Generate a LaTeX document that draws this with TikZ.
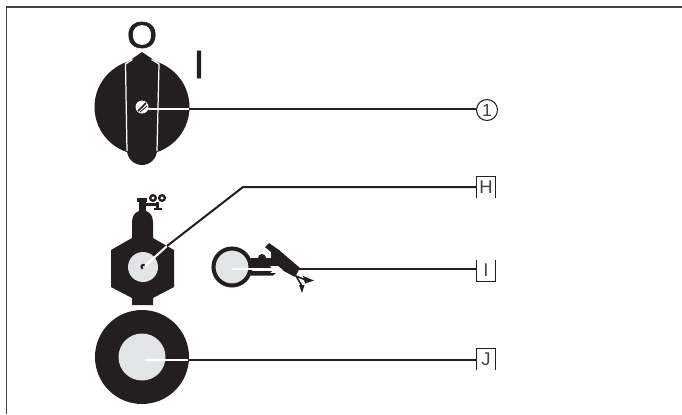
\documentclass[tikz,border=0pt]{standalone}
\usepackage{fontspec}
\setmainfont{Liberation Sans}
\newfontfamily\markfont[FakeBold=1.6]{Liberation Sans}
\definecolor{inkblack}{HTML}{231F20}
\definecolor{discgray}{HTML}{E3E4E6}
\tikzset{
  lead/.style={draw=inkblack, line width=1.15pt},
  whitelead/.style={draw=white, line width=1.15pt},
  tag/.style={minimum width=0.36cm, minimum height=0.42cm, inner sep=0pt, font=\fontsize{10.5}{11}\selectfont, text=inkblack!85},
  tagline/.style={draw=inkblack, line width=0.55pt}
}
\begin{document}
\begin{tikzpicture}[x=0.02cm,y=-0.02cm]
  \useasboundingbox (0,0) rectangle (682,414);
  % frame
  \draw[draw=inkblack!85, line width=0.9pt] (6.5,414)--(6.5,7)--(682,7);
  % switch positions
  \node[font=\markfont\fontsize{21}{21}\selectfont, text=inkblack, xscale=1.05, inner sep=0pt] (posO) at (142,35) {O};
  \node[font=\markfont\fontsize{22.5}{23}\selectfont, text=inkblack, inner sep=0pt] (posI) at (199,64.5) {I};
  % knob
  \fill[inkblack] (142,107) circle (47.5);
  \fill[inkblack] (142,52)--(159,63.5)--(157,150) arc (0:180:15)--(125.5,63.5)--cycle;
  \draw[draw=white, line width=0.7pt] (132.5,59.5)--(125.5,64)--(127,151);
  \draw[draw=white, line width=0.7pt] (151.5,59.5)--(159,64)--(157,151);
  \fill[white] (142,107) circle (6.5);
  \draw[draw=inkblack, line width=0.9pt] (138,111)--(146,103);
  \draw[draw=inkblack, line width=0.5pt] (140,112)--(147,106);
  \coordinate (knobIn) at (146,109);
  \coordinate (knobEdge) at (189,109);
  \node[circle, draw=inkblack, line width=0.6pt, minimum size=0.42cm, inner sep=0pt, font=\fontsize{10}{10}\selectfont, text=inkblack!85] (num) at (487,110) {1};
  \draw[whitelead] (knobIn)--(knobEdge);
  \draw[lead] (knobEdge)--(num.west |- knobEdge);
  % cylinder
  \fill[inkblack] (137,198) rectangle (147,201.5);
  \fill[inkblack] (139,201) rectangle (146,212);
  \fill[inkblack] (146,203) rectangle (158,205.5);
  \draw[draw=inkblack, line width=1.3pt] (153,198) circle (2.8) (162,198) circle (2.8);
  \fill[inkblack] (156,202) rectangle (159,209);
  \fill[inkblack] (154,207.5) rectangle (162,210);
  \fill[inkblack] (132,238)--(132,222) .. controls (132,215) and (136,212) .. (139,211)--(146,211) .. controls (149,212) and (153,215) .. (153,222)--(153,238)--(174,250)--(174,287)--(153,298)--(153,305)--(132,305)--(132,298)--(111,287)--(111,250)--cycle;
  \fill[discgray] (143,267) circle (15);
  \draw[draw=inkblack, line width=1.1pt] (145,265.5) arc (-40:-250:2);
  \coordinate (cylIn) at (145,266);
  \coordinate (cylEdge) at (167,246);
  \coordinate (bend) at (243,187);
  \draw[whitelead] (cylIn)--(cylEdge);
  % torch
  \draw[draw=inkblack, line width=2.3pt, fill=discgray] (232,267) circle (18.5);
  \fill[inkblack] (251,258)--(258,258) arc (180:360:4)--(271,258)--(271,252)--(265,247)--(269,243)--(279,250)--(300,268)--(295,277)--(282,270)--(272,268)--(251,268)--cycle;
  \fill[white] (270,266)--(278,266)--(283,270)--(274,270)--cycle;
  \fill[inkblack] (251,271)--(272,271)--(270,273)--(276,273)--(273,275.5)--(251,275.5)--cycle;
  \draw[draw=inkblack, line width=0.9pt] (296,276)--(307,280.5);
  \draw[draw=inkblack, line width=0.9pt] (296,276)--(302,286);
  \fill[inkblack] (314,280.5)--(303,276)--(305,283.5)--cycle;
  \fill[inkblack] (302,293)--(299,285)--(304.5,285)--cycle;
  \coordinate (torchIn) at (232,269);
  \coordinate (torchMid) at (272,269);
  \coordinate (torchEdge) at (298,269);
  \draw[whitelead] (torchIn)--(torchMid);
  % base disc
  \fill[inkblack] (142,357) circle (47);
  \fill[discgray] (142,357) circle (23.5);
  \coordinate (discIn) at (145,360);
  \coordinate (discEdge) at (188,360);
  \draw[whitelead] (discIn)--(discEdge);
  % tags
  \node[tag] (tagH) at (486,187) {H};
  \node[tag] (tagI) at (486,270.5) {I};
  \node[tag] (tagJ) at (486,359.5) {J};
  \draw[tagline] (tagH.south west)|-(tagH.north east)--(tagH.south east);
  \draw[tagline] (tagI.north west)|-(tagI.south east)--(tagI.north east);
  \draw[tagline] (tagJ.south west)|-(tagJ.north east)--(tagJ.south east);
  \draw[lead] (cylEdge)--(bend)--(tagH.west);
  \draw[lead] (torchEdge)--(tagI.west |- torchEdge);
  \draw[lead] (discEdge)--(tagJ.west |- discEdge);
\end{tikzpicture}
\end{document}
